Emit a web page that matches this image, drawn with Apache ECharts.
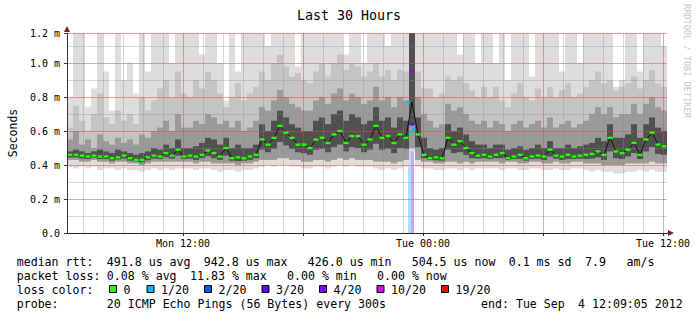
<!DOCTYPE html>
<html><head><meta charset="utf-8">
<script src="https://cdn.jsdelivr.net/npm/echarts@6/dist/echarts.min.js"></script>
<style>html,body{margin:0;padding:0;background:#fff}#c{width:697px;height:321px}</style>
</head><body><div id="c"></div>
<script>
// ---- axis setup (hours since Mon 00:00; values in milliseconds) ----
const xMin = 6.2, xMax = 36.2, stepH = 0.3;
const yMax = 200 / 170;
const xLabelHours = [12, 24, 36];
const xLabels = ['Mon 12:00', 'Tue 00:00', 'Tue 12:00'];
const majorHours = [12, 18, 24, 30, 36];
const minorHours = [7,8,9,10,11,13,14,15,16,17,19,20,21,22,23,25,26,27,28,29,31,32,33,34,35];
const yTicks = [0, 0.2, 0.4, 0.6, 0.8, 1.0, yMax];
const yMinorTicks = [0.1, 0.3, 0.5, 0.7, 0.9, 1.1];

// ---- median rtt per step ----
const med = [
0.46,0.46,0.455,0.45,0.455,0.45,0.45,0.44,0.445,0.455,
0.44,0.43,0.43,0.445,0.455,0.45,0.47,0.455,0.49,0.45,
0.455,0.45,0.46,0.485,0.47,0.45,0.50,0.44,0.445,0.44,
0.45,0.46,0.55,0.52,0.56,0.63,0.59,0.56,0.52,0.52,
0.50,0.55,0.56,0.53,0.58,0.60,0.53,0.57,0.57,0.52,
0.55,0.63,0.56,0.57,0.53,0.58,0.56,0.77,0.58,0.46,
0.44,0.445,0.44,0.56,0.52,0.54,0.50,0.47,0.455,0.46,
0.45,0.46,0.47,0.44,0.45,0.46,0.44,0.45,0.455,0.45,
0.49,0.455,0.45,0.46,0.45,0.455,0.46,0.465,0.48,0.46,
0.56,0.48,0.47,0.49,0.53,0.46,0.55,0.59,0.52,0.51];
// ---- smoke: lowest / low-core / high bands per step ----
const loA = [
0.39,0.38,0.39,0.38,0.39,0.37,0.38,0.38,0.37,0.38,
0.37,0.37,0.36,0.37,0.38,0.37,0.38,0.37,0.38,0.38,
0.38,0.37,0.38,0.38,0.37,0.36,0.37,0.37,0.36,0.37,
0.37,0.38,0.39,0.40,0.39,0.40,0.40,0.39,0.39,0.38,
0.38,0.39,0.39,0.38,0.39,0.40,0.39,0.40,0.39,0.39,
0.39,0.38,0.37,0.38,0.37,0.38,0.39,0.48,0.39,0.38,
0.38,0.37,0.37,0.38,0.38,0.37,0.38,0.37,0.38,0.38,
0.38,0.38,0.37,0.38,0.38,0.37,0.37,0.38,0.38,0.37,
0.37,0.38,0.37,0.37,0.38,0.38,0.37,0.36,0.37,0.36,
0.36,0.35,0.35,0.36,0.36,0.37,0.36,0.37,0.36,0.36];
const loC = [
0.43,0.43,0.42,0.42,0.43,0.42,0.42,0.41,0.42,0.42,
0.41,0.41,0.40,0.41,0.42,0.42,0.42,0.42,0.42,0.42,
0.42,0.41,0.42,0.42,0.41,0.41,0.41,0.41,0.40,0.41,
0.41,0.42,0.43,0.43,0.43,0.44,0.44,0.43,0.43,0.42,
0.42,0.43,0.43,0.42,0.43,0.44,0.43,0.44,0.43,0.43,
0.43,0.42,0.42,0.42,0.41,0.42,0.43,0.50,0.43,0.42,
0.42,0.41,0.41,0.42,0.42,0.41,0.42,0.41,0.42,0.42,
0.42,0.42,0.41,0.42,0.42,0.41,0.41,0.42,0.42,0.41,
0.41,0.42,0.41,0.41,0.42,0.42,0.41,0.41,0.41,0.40,
0.40,0.40,0.40,0.41,0.41,0.41,0.41,0.42,0.41,0.41];
const hiD = [
0.48,0.49,0.48,0.47,0.48,0.49,0.48,0.47,0.49,0.48,
0.47,0.46,0.47,0.48,0.50,0.49,0.52,0.50,0.55,0.50,
0.50,0.51,0.53,0.56,0.55,0.52,0.56,0.50,0.52,0.50,
0.50,0.52,0.64,0.60,0.66,0.72,0.68,0.64,0.62,0.60,
0.60,0.66,0.68,0.64,0.70,0.72,0.66,0.70,0.68,0.64,
0.66,0.74,0.66,0.68,0.62,0.68,0.66,1.2,0.68,0.56,
0.50,0.49,0.50,0.64,0.60,0.62,0.58,0.54,0.52,0.52,
0.50,0.52,0.52,0.49,0.50,0.51,0.49,0.50,0.52,0.50,
0.54,0.50,0.50,0.52,0.50,0.51,0.52,0.53,0.56,0.54,
0.64,0.56,0.56,0.58,0.64,0.56,0.64,0.68,0.62,0.60];
const hiC = [
0.55,0.60,0.52,0.55,0.50,0.58,0.54,0.52,0.56,0.53,
0.55,0.52,0.58,0.56,0.60,0.62,0.66,0.60,0.70,0.62,
0.62,0.66,0.64,0.70,0.68,0.64,0.66,0.62,0.66,0.60,
0.62,0.66,0.74,0.72,0.78,0.84,0.80,0.76,0.74,0.72,
0.72,0.78,0.80,0.76,0.82,0.85,0.78,0.82,0.80,0.76,
0.78,0.86,0.78,0.80,0.74,0.80,0.78,1.2,0.80,0.70,
0.66,0.62,0.64,0.76,0.72,0.74,0.70,0.66,0.64,0.66,
0.62,0.66,0.64,0.60,0.64,0.66,0.62,0.64,0.66,0.62,
0.68,0.62,0.64,0.66,0.62,0.64,0.66,0.70,0.74,0.70,
0.74,0.68,0.70,0.70,0.76,0.70,0.76,0.80,0.74,0.72];
const hiB = [
0.62,0.75,0.66,0.60,0.70,0.82,0.68,0.64,0.72,0.66,
0.70,0.64,0.80,0.72,0.78,0.85,0.90,0.80,0.95,0.82,
0.80,0.90,0.85,0.95,0.90,0.82,0.74,0.80,0.88,0.78,
0.82,0.86,0.95,0.90,1.0,1.05,0.98,0.92,0.94,0.90,
0.88,0.95,1.0,0.92,1.0,1.05,0.96,1.0,0.98,0.92,
0.95,1.0,0.92,0.96,0.90,0.96,0.95,1.2,0.95,0.85,
0.85,0.80,0.82,0.92,0.90,0.92,0.88,0.84,0.80,0.86,
0.80,0.86,0.78,0.74,0.82,0.88,0.80,0.78,0.85,0.80,
0.86,0.80,0.84,0.88,0.80,0.82,0.86,0.90,0.95,0.88,
0.90,0.84,0.86,0.88,0.92,0.85,0.90,0.96,0.88,0.86];
const hiA = [
0.80,1.2,1.2,0.74,0.85,1.2,0.95,0.72,1.2,0.90,
1.0,0.82,1.2,0.95,1.2,1.2,1.2,1.0,1.2,1.2,
1.2,1.2,1.05,1.2,1.2,1.0,0.78,1.2,0.95,1.2,
1.2,1.2,1.2,1.1,1.2,1.2,1.2,1.2,0.98,1.2,
1.2,1.2,1.2,1.2,1.2,1.2,1.05,1.2,1.2,1.0,
1.2,1.2,1.2,1.1,1.2,1.2,1.2,1.2,1.2,1.2,
1.2,1.2,1.2,1.2,1.2,1.05,1.2,1.2,1.0,1.2,
1.2,1.0,1.2,0.9,1.2,1.2,1.2,0.92,1.2,1.2,
1.2,1.2,0.95,1.2,1.2,1.0,1.2,1.2,1.2,1.2,
1.2,0.86,0.9,1.2,1.2,0.95,1.2,1.2,1.2,1.1];

// ---- packet loss ----
const lossStart = [23.25, 23.40];
const lossEnd = [23.40, 23.55];
const lossCount = [1, 4];
const lossyT = [23.28, 23.40, 23.45, 23.55];
const lossyV = [0.77, 0.95, 0.64, 0.61];
const lossyN = [1, 4, 3, 1];
const lossLevels = [0, 1, 2, 3, 4, 10, 19];
const lossLabels = ['0', '1/20', '2/20', '3/20', '4/20', '10/20', '19/20'];
const lossColors = ['#26ff00', '#00b8ff', '#0059ff', '#5e00ff', '#7e00ff', '#dd00ff', '#ff0000'];
const lossBgColors = {1: '#a8e4fb', 2: '#a8c4fb', 3: '#bfa8fb', 4: '#c9a8fb', 10: '#eea8fb', 19: '#fba8a8'};

const FONT = '"DejaVu Sans Mono"';
const PLOT = {left: 67, top: 33, width: 600, height: 200};
const smokeData = med.map((m, i) => [xMin + i * stepH, xMin + (i + 1) * stepH, loA[i], loC[i], hiD[i], hiC[i], hiB[i], hiA[i], m]);
const inLoss = t => lossStart.some((s, k) => t >= s && t <= lossEnd[k]);
const greenData = med.map((m, i) => [xMin + (i + 0.5) * stepH, m]).filter(d => !inLoss(d[0]));

const chart = echarts.init(document.getElementById('c'), null, {renderer: 'svg'});

function rectFromTo(api, cs, t0, t1, lo, hi) {
  const a = api.coord([t0, hi]), b = api.coord([t1, lo]);
  const top = Math.max(a[1], cs.y);
  const x0 = Math.round(a[0]), x1 = Math.round(b[0]);
  return {x: x0, y: top, width: x1 - x0, height: Math.max(0, b[1] - top)};
}

chart.setOption({
  animation: false,
  backgroundColor: '#ffffff',
  grid: {left: PLOT.left, top: PLOT.top, width: PLOT.width, height: PLOT.height, containLabel: false, outerBoundsMode: 'none'},
  xAxis: [{
    type: 'value', min: xMin, max: xMax, z: 6,
    axisLine: {show: true, lineStyle: {color: '#222', width: 1}},
    axisTick: {show: true, length: 3, customValues: majorHours, lineStyle: {color: '#222'}},
    axisLabel: {customValues: xLabelHours, margin: 5, fontFamily: 'DejaVu Sans Mono', fontSize: 10, color: '#000',
      formatter: v => xLabels[xLabelHours.indexOf(v)]},
    splitLine: {show: false}
  }],
  yAxis: [{
    type: 'value', min: 0, max: yMax, z: 6,
    name: 'Seconds', nameLocation: 'middle', nameGap: 46, nameRotate: 90,
    nameTextStyle: {fontFamily: 'DejaVu Sans Mono', fontSize: 11.5, color: '#000'},
    axisLine: {show: true, lineStyle: {color: '#333', width: 1}},
    axisTick: {show: true, length: 3, customValues: yTicks, lineStyle: {color: '#333'}},
    axisLabel: {customValues: yTicks, margin: 7, fontFamily: 'DejaVu Sans Mono', fontSize: 10, color: '#000',
      formatter: v => v === 0 ? '0.0' : (v > 1.1 ? '1.2 m' : v.toFixed(1) + ' m')},
    splitLine: {show: false}
  }],
  series: [{
    type: 'custom', name: 'loss background', z: 1, silent: true,
    data: lossStart.map((s, i) => [s, lossEnd[i], lossCount[i]]),
    encode: {x: [0, 1], y: 2},
    renderItem(params, api) {
      const r = rectFromTo(api, params.coordSys, api.value(0), api.value(1), 0, yMax);
      return {type: 'rect', shape: r, style: {fill: lossBgColors[api.value(2)]}};
    }
  }, {
    type: 'custom', name: 'smoke', z: 2, silent: true,
    data: smokeData,
    encode: {x: [0, 1], y: [2, 7]},
    renderItem(params, api) {
      const cs = params.coordSys;
      const t0 = api.value(0), t1 = api.value(1);
      const lA = api.value(2), lC = api.value(3), hD = api.value(4), hC = api.value(5), hB = api.value(6), hA = api.value(7), m = api.value(8);
      const band = (lo, hi, fill) => ({type: 'rect', shape: rectFromTo(api, cs, t0, t1, lo, hi), style: {fill}});
      return {type: 'group', children: [
        band(lA, hA, '#dddddd'),
        band(lC, hB, '#c4c4c4'),
        band(lC, hC, '#9a9a9a'),
        band((lC + m) / 2, hD, '#505050')
      ]};
    }
  }, {
    type: 'line', name: 'median', z: 4, silent: true, symbol: 'none',
    data: med.map((m, i) => [xMin + (i + 0.5) * stepH, m]),
    lineStyle: {color: '#111', width: 1}
  }, {
    type: 'custom', name: 'median 0 loss', z: 5, silent: true,
    data: greenData, encode: {x: 0, y: 1},
    renderItem(params, api) {
      const p = api.coord([api.value(0), api.value(1)]);
      return {type: 'rect', shape: {x: p[0] - 2.5, y: p[1] - 1.2, width: 5, height: 2.4}, style: {fill: lossColors[0]}};
    }
  }, {
    type: 'custom', name: 'median with loss', z: 6, silent: true,
    data: lossyT.map((t, i) => [t, lossyV[i], lossyN[i]]), encode: {x: 0, y: 1},
    renderItem(params, api) {
      const p = api.coord([api.value(0), api.value(1)]);
      const c = lossColors[lossLevels.indexOf(api.value(2))];
      return {type: 'rect', shape: {x: p[0] - 1.5, y: p[1] - 1.5, width: 3, height: 3}, style: {fill: c}};
    }
  }]
});

// if the library still nudged the plot box, compensate once so it lands on 67..667 x 33..233
(function fixPlot() {
  const a = chart.convertToPixel({xAxisIndex: 0, yAxisIndex: 0}, [xMin, yMax]);
  const b = chart.convertToPixel({xAxisIndex: 0, yAxisIndex: 0}, [xMax, 0]);
  const dl = a[0] - PLOT.left, dr = b[0] - (PLOT.left + PLOT.width);
  const dt = a[1] - PLOT.top, db = b[1] - (PLOT.top + PLOT.height);
  if (Math.abs(dl) > 0.3 || Math.abs(dr) > 0.3 || Math.abs(dt) > 0.3 || Math.abs(db) > 0.3) {
    chart.setOption({grid: {left: PLOT.left - dl, top: PLOT.top - dt,
      width: PLOT.width + dl - dr, height: PLOT.height + dt - db}});
  }
})();

// ---- grid lines from the axis scales, decorations, legend, watermark ----
const tl = chart.convertToPixel({xAxisIndex: 0, yAxisIndex: 0}, [xMin, yMax]);
const br = chart.convertToPixel({xAxisIndex: 0, yAxisIndex: 0}, [xMax, 0]);
const xPix = h => chart.convertToPixel({xAxisIndex: 0}, h);
const yPix = v => chart.convertToPixel({yAxisIndex: 0}, v);
const MINOR = 'rgba(140,140,140,0.34)', MAJOR = 'rgba(225,70,70,0.5)';
const els = [];
const vline = (h, c) => { const x = Math.round(xPix(h)) + 0.5;
  els.push({type: 'line', z: 3, silent: true, shape: {x1: x, y1: tl[1], x2: x, y2: br[1]}, style: {stroke: c, lineWidth: 1}}); };
const hline = (v, c) => { const y = Math.round(yPix(v)) + 0.5;
  els.push({type: 'line', z: 3, silent: true, shape: {x1: tl[0], y1: y, x2: br[0], y2: y}, style: {stroke: c, lineWidth: 1}}); };
minorHours.forEach(h => vline(h, MINOR));
yMinorTicks.forEach(v => hline(v, MINOR));
majorHours.forEach(h => vline(h, MAJOR));
yTicks.forEach(v => hline(v, MAJOR));

const txt = (x, y, text, size) => ({type: 'text', x, y, silent: true,
  style: {text, font: size + 'px ' + FONT, fill: '#000', textAlign: 'left', textVerticalAlign: 'middle'}});
els.push({type: 'text', x: 349, y: 15, silent: true,
  style: {text: 'Last 30 Hours', font: '13.3px ' + FONT, fill: '#000', textAlign: 'center', textVerticalAlign: 'middle'}});
els.push({type: 'polygon', z: 7, silent: true, shape: {points: [[tl[0] - 3, tl[1] - 1], [tl[0] + 3, tl[1] - 1], [tl[0], tl[1] - 7]]}, style: {fill: '#801f1f'}});
els.push({type: 'line', z: 7, silent: true, shape: {x1: br[0], y1: br[1], x2: br[0] + 2, y2: br[1]}, style: {stroke: '#222', lineWidth: 1}});
els.push({type: 'polygon', z: 7, silent: true, shape: {points: [[br[0] + 1, br[1] - 3], [br[0] + 1, br[1] + 3], [br[0] + 7, br[1]]]}, style: {fill: '#801f1f'}});
const L = 11.6;
[[16.7, 'median rtt:'], [106.8, '491.8 us avg'], [203.8, '942.8 us max'], [307.8, '426.0 us min'],
 [411.7, '504.5 us now'], [508.7, '0.1 ms sd'], [585, '7.9'], [626.5, 'am/s']].forEach(s => els.push(txt(s[0], 261.5, s[1], L)));
[[16.7, 'packet loss:'], [106.8, '0.08 % avg'], [190, '11.83 % max'], [287, '0.00 % min'], [377, '0.00 % now']]
  .forEach(s => els.push(txt(s[0], 275.5, s[1], L)));
els.push(txt(16.7, 289.5, 'loss color:', L));
const boxX = [109.5, 147, 204.5, 262, 319.5, 377, 441.5];
lossLabels.forEach((lab, i) => {
  els.push({type: 'rect', silent: true, shape: {x: boxX[i], y: 285.5, width: 7, height: 7}, style: {fill: lossColors[i], stroke: '#000', lineWidth: 1}});
  els.push(txt(boxX[i] + 14, 289.5, lab, L));
});
els.push(txt(16.7, 303.5, 'probe:', L));
els.push(txt(106.8, 303.5, '20 ICMP Echo Pings (56 Bytes) every 300s', L));
els.push(txt(481, 303.5, 'end: Tue Sep', L));
els.push(txt(578, 303.5, '4 12:09:05 2012', L));
els.push({type: 'text', x: 686.5, y: 4, rotation: -Math.PI / 2, silent: true,
  style: {text: 'RRDTOOL / TOBI OETIKER', font: '8.6px ' + FONT, fill: '#c8c8c8', textAlign: 'left', textVerticalAlign: 'middle'}});
chart.setOption({graphic: {elements: els}});
</script></body></html>
